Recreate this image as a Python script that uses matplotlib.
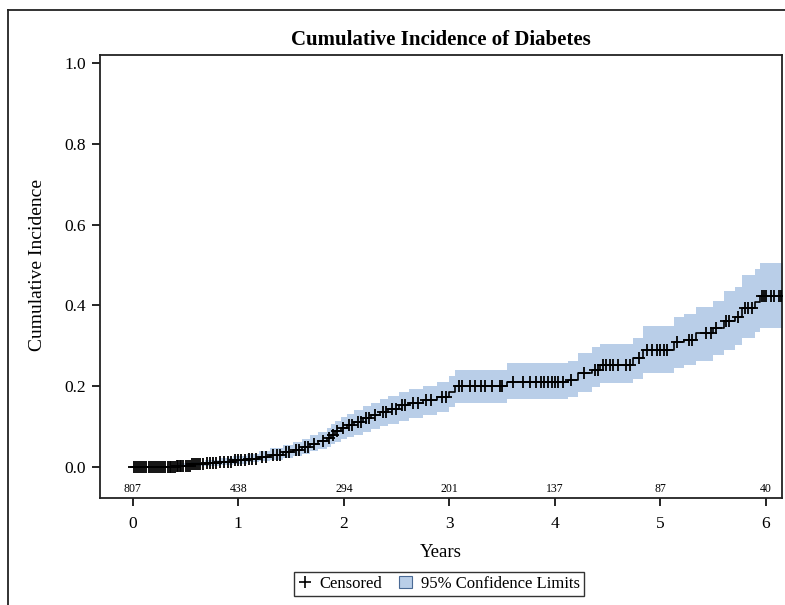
import numpy as np
import matplotlib.pyplot as plt
from matplotlib.lines import Line2D
from matplotlib.patches import Patch

plt.rcParams['font.family'] = ['Liberation Serif', 'DejaVu Serif']

# step estimate (years, cumulative incidence) with 95% limits
event_time = [0.0, 0.42, 0.55, 0.68, 0.82, 0.95, 1.08, 1.2, 1.3, 1.42, 1.52, 1.6, 1.68, 1.76,
              1.84, 1.88, 1.92, 1.97, 2.03, 2.1, 2.18, 2.26, 2.34, 2.42, 2.52, 2.62, 2.75, 2.88,
              3.0, 3.05, 3.55, 4.12, 4.22, 4.35, 4.43, 4.74, 4.83, 5.13, 5.22, 5.34, 5.5, 5.6,
              5.71, 5.77, 5.9, 5.94]
cum_inc = [0.0, 0.003, 0.006, 0.009, 0.012, 0.016, 0.02, 0.025, 0.03, 0.036, 0.042, 0.049, 0.056,
           0.063, 0.072, 0.08, 0.088, 0.096, 0.104, 0.112, 0.12, 0.128, 0.136, 0.143, 0.152, 0.158,
           0.166, 0.174, 0.186, 0.199, 0.211, 0.215, 0.232, 0.240, 0.252, 0.269, 0.290, 0.310,
           0.314, 0.331, 0.343, 0.360, 0.372, 0.393, 0.409, 0.422]
ci_upper = [0.0, 0.009, 0.013, 0.017, 0.021, 0.027, 0.033, 0.04, 0.047, 0.054, 0.062, 0.07, 0.078,
            0.086, 0.096, 0.105, 0.114, 0.123, 0.132, 0.141, 0.15, 0.159, 0.168, 0.176, 0.185,
            0.192, 0.201, 0.21, 0.225, 0.24, 0.257, 0.263, 0.281, 0.296, 0.305, 0.318, 0.349,
            0.370, 0.378, 0.395, 0.41, 0.435, 0.445, 0.475, 0.49, 0.505]
ci_lower = [0.0, 0.0, 0.001, 0.003, 0.005, 0.008, 0.011, 0.014, 0.018, 0.023, 0.028, 0.033, 0.038,
            0.044, 0.05, 0.056, 0.062, 0.068, 0.074, 0.08, 0.087, 0.094, 0.1, 0.106, 0.113, 0.12,
            0.128, 0.137, 0.149, 0.158, 0.168, 0.174, 0.186, 0.197, 0.207, 0.217, 0.232, 0.245,
            0.252, 0.261, 0.277, 0.29, 0.302, 0.318, 0.335, 0.343]
last_followup = 6.2

censor_time = [0.01, 0.03, 0.05, 0.07, 0.09, 0.11, 0.13, 0.15, 0.17, 0.19, 0.21, 0.23, 0.25, 0.27,
               0.29, 0.31, 0.33, 0.35, 0.36, 0.38, 0.40, 0.42, 0.43, 0.45, 0.46, 0.48, 0.5, 0.52,
               0.54, 0.56, 0.58, 0.6, 0.62, 0.64, 0.67, 0.7, 0.73, 0.76, 0.79, 0.83, 0.86, 0.9,
               0.93, 0.97,
               1.0, 1.03, 1.06, 1.1, 1.13, 1.17, 1.22, 1.26, 1.33, 1.37, 1.4, 1.45, 1.48,
               1.55, 1.58, 1.63, 1.66, 1.72, 1.8, 1.86, 1.9, 1.94, 1.99,
               2.05, 2.08, 2.13, 2.16, 2.21, 2.24, 2.3, 2.37, 2.4, 2.46, 2.49,
               2.55, 2.58, 2.66, 2.7, 2.78, 2.83, 2.93, 2.97,
               3.09, 3.12, 3.2, 3.24, 3.3, 3.34, 3.4, 3.48, 3.5,
               3.6, 3.7, 3.76, 3.82, 3.87, 3.9, 3.93, 3.97, 4.0, 4.03, 4.08,
               4.15, 4.28, 4.38, 4.41, 4.46, 4.48,
               4.52, 4.55, 4.6, 4.67, 4.71, 4.8, 4.87, 4.92, 4.97, 5.0, 5.03, 5.06,
               5.16, 5.27, 5.3, 5.43, 5.48, 5.53,
               5.62, 5.65, 5.73, 5.8, 5.83, 5.87, 5.96, 5.98, 6.0, 6.05, 6.08, 6.12, 6.14]

risk_years = [0, 1, 2, 3, 4, 5, 6]
at_risk = [807, 438, 294, 201, 137, 87, 40]

band_color = '#b9cee8'

fig = plt.figure(figsize=(7.85, 6.05), dpi=100)
ax = fig.add_axes([0.1274, 0.177, 0.8686, 0.732])

t = np.array(event_time + [last_followup])
est = np.array(cum_inc + [cum_inc[-1]])
lo = np.array(ci_lower + [ci_lower[-1]])
hi = np.array(ci_upper + [ci_upper[-1]])

ax.fill_between(t, lo, hi, step='post', color=band_color, linewidth=0, zorder=1)
ax.step(t, est, where='post', color='black', linewidth=1.2, zorder=2)

idx = np.searchsorted(t, censor_time, side='right') - 1
ax.plot(censor_time, est[idx], linestyle='none', marker='+', markersize=8,
        markeredgewidth=1.3, color='black', zorder=3)

for yr, n in zip(risk_years, at_risk):
    ax.text(yr, -0.069, str(n), ha='center', va='bottom', fontsize=8.5)

ax.set_xlim(-0.31, 6.15)
ax.set_ylim(-0.077, 1.02)
ax.set_xticks(range(0, 7))
ax.set_yticks([0.0, 0.2, 0.4, 0.6, 0.8, 1.0])
ax.set_yticklabels(['0.0', '0.2', '0.4', '0.6', '0.8', '1.0'])
ax.tick_params(labelsize=12.5, length=6, width=1.2, direction='out')
ax.tick_params(axis='x', pad=7)
ax.tick_params(axis='y', pad=4)
for sp in ax.spines.values():
    sp.set_linewidth(1.3)
    sp.set_color('#222222')

ax.set_title('Cumulative Incidence of Diabetes', fontsize=15, fontweight='bold', pad=7)
ax.set_xlabel('Years', fontsize=13.5, labelpad=9)
ax.set_ylabel('Cumulative Incidence', fontsize=14)
ax.yaxis.set_label_coords(-0.079, 0.526)

handles = [Line2D([], [], linestyle='none', marker='+', markersize=8, markeredgewidth=1.2, color='black'),
           Patch(facecolor=band_color, edgecolor='#4a6a95', linewidth=0.8)]
leg = fig.legend(handles, ['Censored', '95% Confidence Limits'], loc='center', ncol=2,
                 bbox_to_anchor=(0.559, 0.035), fontsize=12, frameon=True, fancybox=False,
                 handlelength=0.8, handleheight=0.8, handletextpad=0.5, columnspacing=1.0,
                 borderpad=0.25, borderaxespad=0)
leg.get_frame().set_edgecolor('black')
leg.get_frame().set_linewidth(1.0)

# outer graph frame (top and left edges visible)
fig.add_artist(Line2D([8 / 785, 1.0], [1 - 10 / 605, 1 - 10 / 605], transform=fig.transFigure,
                      color='#222222', linewidth=1.3))
fig.add_artist(Line2D([8 / 785, 8 / 785], [0.0, 1 - 10 / 605], transform=fig.transFigure,
                      color='#222222', linewidth=1.3))

fig.savefig('out.png', dpi=100)
